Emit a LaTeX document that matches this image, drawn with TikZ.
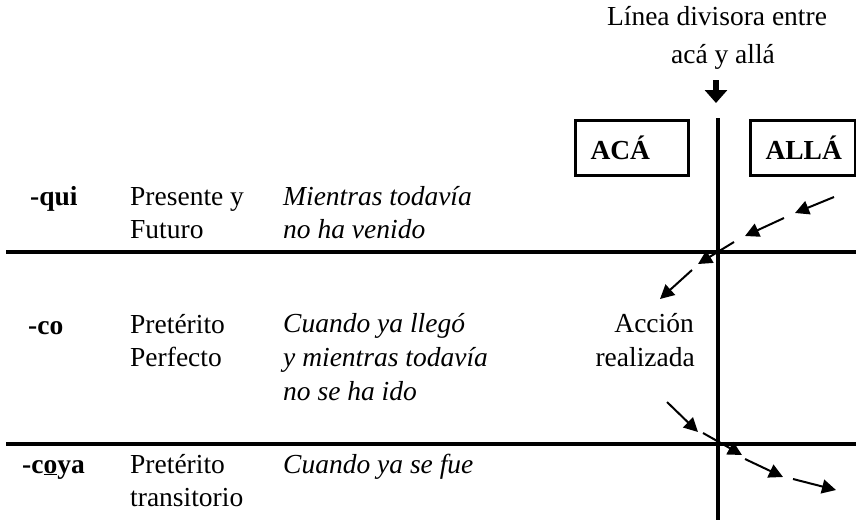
\documentclass[tikz,border=0pt]{standalone}
\usepackage{fontspec}
\setmainfont{Liberation Serif}
\usetikzlibrary{arrows.meta}
\begin{document}
\begin{tikzpicture}[x=1pt,y=-1pt,
  txt/.style={inner sep=0pt,anchor=base west,font=\fontsize{27.5}{34}\selectfont},
  suf/.style={txt,font=\fontsize{27.5}{34}\selectfont\bfseries},
  itx/.style={txt,font=\fontsize{27.5}{34}\selectfont\itshape},
  mainline/.style={line width=4pt},
  boxst/.style={draw,line width=3pt,anchor=north west,minimum height=55pt,inner xsep=15pt,align=left,font=\fontsize{27.5}{34}\selectfont\bfseries},
  arr/.style={line width=2pt,-{Triangle[length=14pt,width=14pt]}}]
\useasboundingbox (0,0) rectangle (856,520);
% heading
\node[txt,anchor=base] (h1) at (717,25) {Línea divisora entre};
\node[txt,anchor=base] (h2) at (723,63) {acá y allá};
\coordinate (da) at (716,80);
\coordinate (db) at (716,103);
\draw[line width=6pt,-{Triangle[length=13pt,width=22pt]}] (da) -- (db);
% boxes
\node[boxst,text width=83pt] (aca) at (574,119) {ACÁ};
\node[boxst,text width=75pt] (alla) at (749,119) {ALLÁ};
% lines
\coordinate (v1) at (718,118);
\coordinate (v2) at (718,520);
\coordinate (l1a) at (6,252);
\coordinate (l1b) at (856,252);
\coordinate (l2a) at (6,444);
\coordinate (l2b) at (856,444);
\draw[mainline] (v1) -- (v2);
\draw[mainline] (l1a) -- (l1b);
\draw[mainline] (l2a) -- (l2b);
% row 1
\node[suf] (s1) at (30,205) {-qui};
\node[txt] (t1a) at (130,205) {Presente y};
\node[txt] (t1b) at (130,238) {Futuro};
\node[itx] (d1a) at (283,205) {Mientras todavía};
\node[itx] (d1b) at (283,238) {no ha venido};
% row 2
\node[suf] (s2) at (28,334) {-co};
\node[txt] (t2a) at (130,333) {Pretérito};
\node[txt] (t2b) at (130,366) {Perfecto};
\node[itx] (d2a) at (283,332) {Cuando ya llegó};
\node[itx] (d2b) at (283,366) {y mientras todavía};
\node[itx] (d2c) at (283,400) {no se ha ido};
\node[txt,anchor=base east] (ac1) at (694,332) {Acción};
\node[txt,anchor=base east] (ac2) at (695,366) {realizada};
% row 3
\node[suf] (s3) at (22,473) {-c\underline{o}ya};
\node[txt] (t3a) at (130,473) {Pretérito};
\node[txt] (t3b) at (130,506) {transitorio};
\node[itx] (d3a) at (283,473) {Cuando ya se fue};
% arrows upper
\coordinate (a1s) at (834,197); \coordinate (a1e) at (795,213);
\coordinate (a2s) at (784,218); \coordinate (a2e) at (745,236);
\coordinate (a3s) at (734,242); \coordinate (a3e) at (698,264);
\coordinate (a4s) at (692,270); \coordinate (a4e) at (660,299);
\draw[arr] (a1s) -- (a1e);
\draw[arr] (a2s) -- (a2e);
\draw[arr] (a3s) -- (a3e);
\draw[arr] (a4s) -- (a4e);
% arrows lower
\coordinate (b1s) at (667,402); \coordinate (b1e) at (698,432);
\coordinate (b2s) at (703,433); \coordinate (b2e) at (742,455);
\coordinate (b3s) at (745,459); \coordinate (b3e) at (783,477);
\coordinate (b4s) at (793,479); \coordinate (b4e) at (836,490);
\draw[arr] (b1s) -- (b1e);
\draw[arr] (b2s) -- (b2e);
\draw[arr] (b3s) -- (b3e);
\draw[arr] (b4s) -- (b4e);
\end{tikzpicture}
\end{document}
